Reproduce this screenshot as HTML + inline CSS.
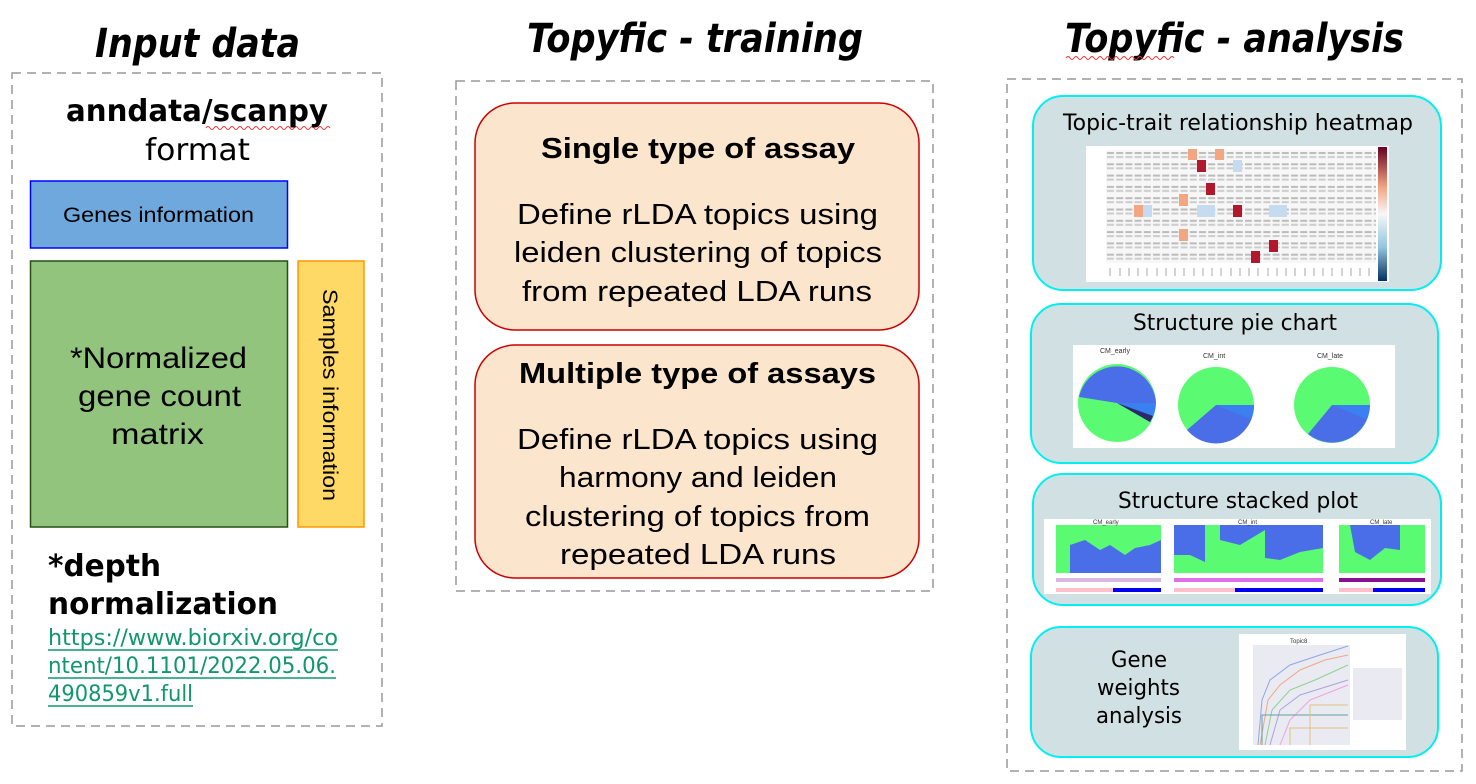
<!DOCTYPE html>
<html><head><meta charset="utf-8"><style>html,body{margin:0;padding:0;background:#fff}svg{display:block}</style></head>
<body>
<svg width="1476" height="784" viewBox="0 0 1476 784" xmlns="http://www.w3.org/2000/svg">
<defs>
<pattern id="hm" x="1106" y="150" width="9.2" height="11.3" patternUnits="userSpaceOnUse">
<rect width="9.2" height="11.3" fill="#f7f7f7"/><rect x="1" y="2" width="7" height="2" fill="#bbb"/><rect x="1" y="6" width="7" height="2" fill="#ccc"/>
</pattern>
<linearGradient id="cb" x1="0" y1="0" x2="0" y2="1"><stop offset="0" stop-color="#67001f"/><stop offset="0.3" stop-color="#f4a582"/><stop offset="0.5" stop-color="#f7f7f7"/><stop offset="0.75" stop-color="#92c5de"/><stop offset="1" stop-color="#053061"/></linearGradient>
</defs>
<g font-family="DejaVu Sans, sans-serif" font-weight="bold" font-style="italic" font-size="40">
<text x="95" y="57" textLength="205" lengthAdjust="spacingAndGlyphs">Input data</text>
<text x="527" y="52" textLength="336" lengthAdjust="spacingAndGlyphs">Topyfic - training</text>
<text x="1065" y="52" textLength="339" lengthAdjust="spacingAndGlyphs">Topyfic - analysis</text>
</g>
<path d="M1066 58 q2 -3 4 0 t4 0 t4 0 t4 0 t4 0 t4 0 t4 0 t4 0 t4 0 t4 0 t4 0 t4 0 t4 0 t4 0 t4 0 t4 0 t4 0 t4 0 t4 0 t4 0 t4 0 t4 0 t4 0 t4 0 t4 0 t4 0 t4 0" fill="none" stroke="#e33" stroke-width="1"/>
<path d="M206 128 q2 -3 4 0 t4 0 t4 0 t4 0 t4 0 t4 0 t4 0 t4 0 t4 0 t4 0 t4 0 t4 0 t4 0 t4 0 t4 0 t4 0 t4 0 t4 0 t4 0 t4 0 t4 0 t4 0 t4 0 t4 0 t4 0 t4 0 t4 0 t4 0 t4 0 t4 0 t4 0" fill="none" stroke="#e33" stroke-width="1"/>
<g fill="none" stroke="#999" stroke-width="1.5" stroke-dasharray="9,6">
<rect x="12" y="73" width="370" height="653"/>
<rect x="456" y="81" width="477" height="510"/>
<rect x="1007" y="79" width="455" height="692"/>
</g>
<g font-family="DejaVu Sans, sans-serif" font-size="30">
<text x="66" y="121" font-weight="bold" textLength="262" lengthAdjust="spacingAndGlyphs">anndata/scanpy</text>
<text x="145" y="160" textLength="105" lengthAdjust="spacingAndGlyphs">format</text>
<text x="48" y="576" font-weight="bold" textLength="113" lengthAdjust="spacingAndGlyphs">*depth</text>
<text x="48" y="614" font-weight="bold" textLength="230" lengthAdjust="spacingAndGlyphs">normalization</text>
</g>
<g font-family="DejaVu Sans, sans-serif" font-size="22" fill="#11976a">
<text x="48" y="645" textLength="290" lengthAdjust="spacingAndGlyphs">https://www.biorxiv.org/co</text>
<text x="48" y="673" textLength="288" lengthAdjust="spacingAndGlyphs">ntent/10.1101/2022.05.06.</text>
<text x="48" y="701" textLength="145" lengthAdjust="spacingAndGlyphs">490859v1.full</text>
</g>
<g stroke="#11976a" stroke-width="1.5"><line x1="48" y1="650" x2="338" y2="650"/><line x1="48" y1="678" x2="336" y2="678"/><line x1="48" y1="706" x2="193" y2="706"/></g>
<rect x="30.5" y="181" width="257" height="67" fill="#6fa8dc" stroke="#0000ff" stroke-width="1.5"/>
<rect x="30.5" y="261" width="257" height="266" fill="#93c47d" stroke="#274e13" stroke-width="1.5"/>
<rect x="298" y="261" width="66" height="266" fill="#ffd966" stroke="#ff9900" stroke-width="1.5"/>
<g font-family="Liberation Sans, sans-serif">
<text x="63" y="222" font-size="21" textLength="191" lengthAdjust="spacingAndGlyphs">Genes information</text>
<text x="70" y="368" font-size="30" textLength="177" lengthAdjust="spacingAndGlyphs">*Normalized</text>
<text x="78" y="406" font-size="30" textLength="163" lengthAdjust="spacingAndGlyphs">gene count</text>
<text x="111" y="444" font-size="30" textLength="93" lengthAdjust="spacingAndGlyphs">matrix</text>
<text transform="translate(323,289) rotate(90)" font-size="21" textLength="212" lengthAdjust="spacingAndGlyphs">Samples information</text>
</g>
<rect x="475" y="103" width="444" height="227" rx="40" fill="#fce5cd" stroke="#cc0000" stroke-width="1.5"/>
<rect x="475" y="345" width="444" height="233" rx="40" fill="#fce5cd" stroke="#cc0000" stroke-width="1.5"/>
<g font-family="Liberation Sans, sans-serif" font-size="29">
<text x="541" y="158" font-weight="bold" textLength="314" lengthAdjust="spacingAndGlyphs">Single type of assay</text>
<text x="517" y="224" textLength="361" lengthAdjust="spacingAndGlyphs">Define rLDA topics using</text>
<text x="514" y="262" textLength="368" lengthAdjust="spacingAndGlyphs">leiden clustering of topics</text>
<text x="522" y="301" textLength="350" lengthAdjust="spacingAndGlyphs">from repeated LDA runs</text>
<text x="519" y="383" font-weight="bold" textLength="357" lengthAdjust="spacingAndGlyphs">Multiple type of assays</text>
<text x="517" y="449" textLength="361" lengthAdjust="spacingAndGlyphs">Define rLDA topics using</text>
<text x="559" y="487" textLength="278" lengthAdjust="spacingAndGlyphs">harmony and leiden</text>
<text x="525" y="526" textLength="345" lengthAdjust="spacingAndGlyphs">clustering of topics from</text>
<text x="560" y="564" textLength="276" lengthAdjust="spacingAndGlyphs">repeated LDA runs</text>
</g>
<g fill="#d0e0e3" stroke="#00f0f0" stroke-width="2">
<rect x="1033" y="96" width="408" height="194" rx="30"/>
<rect x="1031" y="304" width="407" height="159" rx="30"/>
<rect x="1033" y="474" width="408" height="131" rx="30"/>
<rect x="1031" y="627" width="407" height="130" rx="30"/>
</g>
<g font-family="DejaVu Sans, sans-serif" font-size="22">
<text x="1063" y="130" textLength="350" lengthAdjust="spacingAndGlyphs">Topic-trait relationship heatmap</text>
<text x="1133" y="330" textLength="204" lengthAdjust="spacingAndGlyphs">Structure pie chart</text>
<text x="1118" y="508" textLength="240" lengthAdjust="spacingAndGlyphs">Structure stacked plot</text>
<text x="1111" y="667" textLength="56" lengthAdjust="spacingAndGlyphs">Gene</text>
<text x="1097" y="695" textLength="83" lengthAdjust="spacingAndGlyphs">weights</text>
<text x="1096" y="723" textLength="86" lengthAdjust="spacingAndGlyphs">analysis</text>
</g>
<rect x="1086" y="146" width="303" height="136" fill="#fff"/>
<rect x="1106" y="150" width="270" height="113" fill="url(#hm)"/>
<g fill="#f4a582"><rect x="1188" y="149" width="9" height="11"/><rect x="1215" y="149" width="9" height="11"/><rect x="1179" y="194" width="9" height="12"/><rect x="1179" y="229" width="9" height="12"/><rect x="1134" y="205" width="9" height="12"/></g>
<g fill="#b2182b"><rect x="1197" y="160" width="9" height="12"/><rect x="1206" y="183" width="9" height="12"/><rect x="1233" y="205" width="9" height="12"/><rect x="1269" y="240" width="9" height="12"/><rect x="1251" y="251" width="9" height="12"/></g>
<g fill="#c6dbef"><rect x="1233" y="160" width="9" height="12"/><rect x="1197" y="205" width="18" height="12"/><rect x="1143" y="205" width="9" height="12"/><rect x="1269" y="205" width="18" height="12"/></g>
<g stroke="#aaa" stroke-width="1"><path d="M1110 268v8M1120 268v8M1129 268v8M1138 268v8M1147 268v8M1157 268v8M1166 268v8M1175 268v8M1184 268v8M1194 268v8M1203 268v8M1212 268v8M1221 268v8M1231 268v8M1240 268v8M1249 268v8M1258 268v8M1268 268v8M1277 268v8M1286 268v8M1295 268v8M1305 268v8M1314 268v8M1323 268v8M1332 268v8M1342 268v8M1351 268v8M1360 268v8M1369 268v8"/></g>
<rect x="1378" y="147" width="9" height="134" fill="url(#cb)"/>
<rect x="1073" y="345" width="322" height="103" fill="#fff"/>
<g font-family="Liberation Sans, sans-serif" font-size="7" fill="#333">
<text x="1100" y="353">CM_early</text><text x="1203" y="358">CM_int</text><text x="1317" y="358">CM_late</text>
</g>
<circle cx="1117" cy="403" r="39" fill="#5bfa73"/>
<path d="M1117 403 L1156 403 A39 39 0 0 0 1079 397 Z" fill="#4a6ee8"/>
<path d="M1117 403 L1150 422 A39 39 0 0 0 1156 403 Z" fill="#3a80f0"/>
<path d="M1117 403 L1150 422 A39 39 0 0 0 1153 416 Z" fill="#2a2a6a"/>
<circle cx="1216" cy="405" r="38" fill="#5bfa73"/>
<path d="M1216 405 L1254 405 A38 38 0 0 1 1187 430 Z" fill="#4a6ee8"/>
<path d="M1216 405 L1254 405 A38 38 0 0 1 1251 419 Z" fill="#3a80f0"/>
<circle cx="1332" cy="405" r="38" fill="#5bfa73"/>
<path d="M1332 405 L1370 405 A38 38 0 0 1 1308 434 Z" fill="#4a6ee8"/>
<path d="M1332 405 L1370 405 A38 38 0 0 1 1366 419 Z" fill="#3a80f0"/>
<rect x="1044" y="519" width="387" height="75" fill="#fff"/>
<rect x="1056" y="525" width="105" height="48" fill="#5bfa73"/>
<path d="M1070 573 L1070 545 L1085 540 L1100 550 L1110 545 L1125 555 L1135 548 L1150 545 L1161 540 L1161 573 Z" fill="#4a6ee8"/>
<rect x="1174" y="525" width="149" height="48" fill="#5bfa73"/>
<path d="M1174 525 L1205 525 L1205 562 L1190 555 L1174 555 Z M1220 525 L1323 525 L1323 548 L1300 552 L1280 560 L1265 558 L1265 530 L1240 545 L1220 540 Z" fill="#4a6ee8"/>
<rect x="1339" y="525" width="86" height="48" fill="#5bfa73"/>
<path d="M1350 525 L1400 525 L1400 550 L1385 548 L1370 560 L1355 552 Z" fill="#4a6ee8"/>
<g font-family="Liberation Sans, sans-serif" font-size="6" fill="#333"><text x="1093" y="524">CM_early</text><text x="1238" y="524">CM_int</text><text x="1370" y="524">CM_late</text></g>
<rect x="1056" y="578" width="105" height="4" fill="#d8b8e0"/><rect x="1174" y="578" width="149" height="4" fill="#e070e8"/><rect x="1339" y="578" width="86" height="4" fill="#8a1090"/>
<rect x="1056" y="588" width="57" height="4" fill="#ffc0cb"/><rect x="1113" y="588" width="48" height="4" fill="#0000ee"/>
<rect x="1174" y="588" width="61" height="4" fill="#ffc0cb"/><rect x="1235" y="588" width="88" height="4" fill="#0000ee"/>
<rect x="1339" y="588" width="34" height="4" fill="#ffc0cb"/><rect x="1373" y="588" width="52" height="4" fill="#0000ee"/>
<rect x="1239" y="634" width="167" height="116" fill="#fff"/>
<rect x="1253" y="645" width="97" height="100" fill="#eaeaf2"/>
<rect x="1353" y="668" width="49" height="52" fill="#eaeaf2"/>
<text x="1290" y="643" font-family="Liberation Sans, sans-serif" font-size="6" fill="#333">Topic8</text>
<g fill="none" stroke-width="1">
<path d="M1258 745 L1262 700 L1270 680 L1290 665 L1320 655 L1348 646" stroke="#8ea6e8"/>
<path d="M1260 745 L1268 700 L1280 685 L1300 670 L1325 660 L1348 655" stroke="#f0a880"/>
<path d="M1265 745 L1272 710 L1290 690 L1315 680 L1348 665" stroke="#90d090"/>
<path d="M1270 745 L1280 710 L1300 695 L1348 680" stroke="#b0a0e0"/>
<path d="M1280 745 L1290 720 L1310 700 L1348 685" stroke="#f0a0e0"/>
<path d="M1262 745 L1262 715 L1348 715" stroke="#60a0a0"/>
<path d="M1290 745 L1290 728 L1348 728 M1310 745 L1310 705 L1348 705" stroke="#e0c080"/>
</g>
</svg>
</body></html>
